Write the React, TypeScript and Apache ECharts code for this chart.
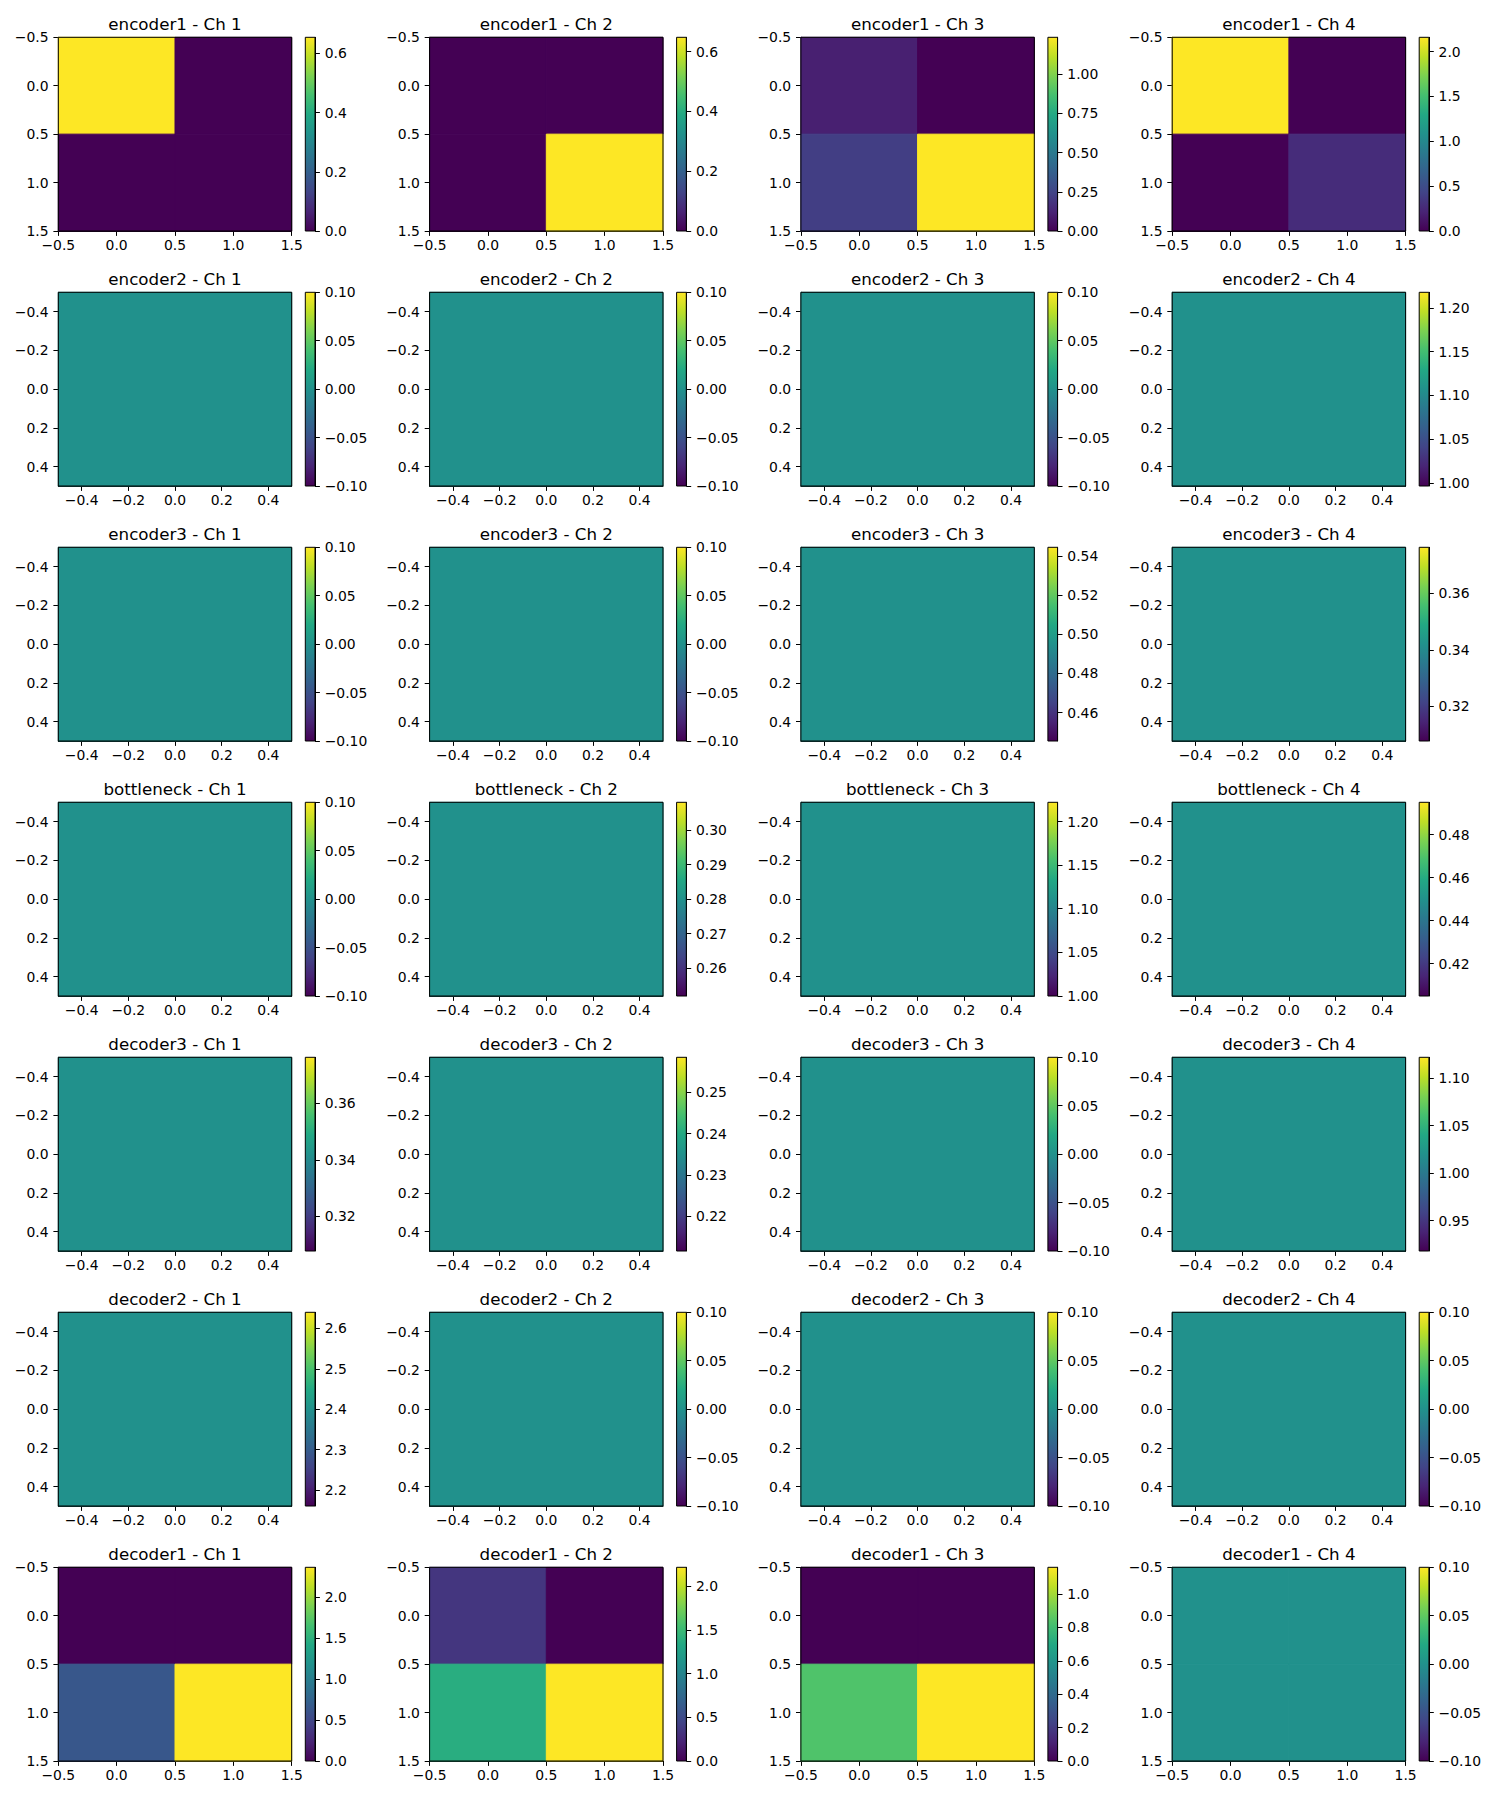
import React, { useEffect, useRef } from 'react';
import * as echarts from 'echarts';

// ---------------- data ----------------
const LAYERS = ['encoder1', 'encoder2', 'encoder3', 'bottleneck', 'decoder3', 'decoder2', 'decoder1'];
const CHANNELS = ['Ch 1', 'Ch 2', 'Ch 3', 'Ch 4'];

// activation maps per channel (rows top -> bottom)
const ENCODER1 = [
  [[0.654, 0], [0, 0]],
  [[0, 0], [0, 0.648]],
  [[0.11, 0], [0.225, 1.234]],
  [[2.16, 0], [0, 0.27]],
];
const ENCODER2 = [[[0]], [[0]], [[0]], [[1.107]]];
const ENCODER3 = [[[0]], [[0]], [[0.495]], [[0.342]]];
const BOTTLENECK = [[[0]], [[0.28]], [[1.111]], [[0.45]]];
const DECODER3 = [[[0.342]], [[0.235]], [[0]], [[1.02]]];
const DECODER2 = [[[2.4]], [[0]], [[0]], [[0]]];
const DECODER1 = [
  [[0, 0], [0.64, 2.36]],
  [[0.35, 0], [1.38, 2.22]],
  [[0, 0], [0.835, 1.16]],
  [[0, 0], [0, 0]],
];
const LAYER_VALUES = [ENCODER1, ENCODER2, ENCODER3, BOTTLENECK, DECODER3, DECODER2, DECODER1];

// colorbar tick labels
const SYM = ['-0.10', '-0.05', '0.00', '0.05', '0.10'];
const CB_TICKS_ENCODER1 = [['0.0', '0.2', '0.4', '0.6'], ['0.0', '0.2', '0.4', '0.6'], ['0.00', '0.25', '0.50', '0.75', '1.00'], ['0.0', '0.5', '1.0', '1.5', '2.0']];
const CB_TICKS_ENCODER2 = [SYM, SYM, SYM, ['1.00', '1.05', '1.10', '1.15', '1.20']];
const CB_TICKS_ENCODER3 = [SYM, SYM, ['0.46', '0.48', '0.50', '0.52', '0.54'], ['0.32', '0.34', '0.36']];
const CB_TICKS_BOTTLENECK = [SYM, ['0.26', '0.27', '0.28', '0.29', '0.30'], ['1.00', '1.05', '1.10', '1.15', '1.20'], ['0.42', '0.44', '0.46', '0.48']];
const CB_TICKS_DECODER3 = [['0.32', '0.34', '0.36'], ['0.22', '0.23', '0.24', '0.25'], SYM, ['0.95', '1.00', '1.05', '1.10']];
const CB_TICKS_DECODER2 = [['2.2', '2.3', '2.4', '2.5', '2.6'], SYM, SYM, SYM];
const CB_TICKS_DECODER1 = [['0.0', '0.5', '1.0', '1.5', '2.0'], ['0.0', '0.5', '1.0', '1.5', '2.0'], ['0.0', '0.2', '0.4', '0.6', '0.8', '1.0'], SYM];
const CB_TICKS = [CB_TICKS_ENCODER1, CB_TICKS_ENCODER2, CB_TICKS_ENCODER3, CB_TICKS_BOTTLENECK, CB_TICKS_DECODER3, CB_TICKS_DECODER2, CB_TICKS_DECODER1];

// image axis tick labels
const AXIS_TICKS_2X2 = ['-0.5', '0.0', '0.5', '1.0', '1.5'];
const AXIS_TICKS_1X1 = ['-0.4', '-0.2', '0.0', '0.2', '0.4'];

const VIRIDIS = ['#440154', '#482475', '#414487', '#355f8d', '#2a788e', '#21918c', '#22a884', '#44bf70', '#7ad151', '#bddf26', '#fde725'];

// ---------------- layout ----------------
const FONT = '"DejaVu Sans", "Liberation Sans", sans-serif';
const PLOT_LEFT0 = 58.3;
const COL_STEP = 371.3;
const PLOT_TOP0 = 37.3;
const ROW_STEP = 255;
const PLOT_W = 233.4;
const PLOT_H = 193.7;
const CB_OFFSET = 247;
const CB_W = 9.7;
const TICK_FS = 13.9;
const TITLE_FS = 16.7;

const fmtFrom = (labels: string[]) => (val: number) => {
  let best = labels[0];
  let bd = Infinity;
  for (const l of labels) {
    const d = Math.abs(Number(l) - val);
    if (d < bd) { bd = d; best = l; }
  }
  return best.replace('-', '\u2212');
};

const rangeOf = (vals: number[][]) => {
  const flat = vals.flat();
  let lo = Math.min(...flat);
  let hi = Math.max(...flat);
  if (hi - lo < 1e-12) {
    if (lo === 0 && hi === 0) { lo = -0.1; hi = 0.1; }
    else { lo = lo - 0.1 * Math.abs(lo); hi = hi + 0.1 * Math.abs(hi); }
  }
  return [lo, hi];
};

function buildOption() {
  const grid: any[] = [];
  const xAxis: any[] = [];
  const yAxis: any[] = [];
  const series: any[] = [];
  const texts: any[] = [];
  const stops = VIRIDIS.map((c, i) => ({ offset: i / (VIRIDIS.length - 1), color: c }));

  LAYERS.forEach((layer, r) => {
    CHANNELS.forEach((ch, c) => {
      const vals = LAYER_VALUES[r][c];
      const n = vals.length;
      const [lo, hi] = rangeOf(vals);
      const left = PLOT_LEFT0 + c * COL_STEP;
      const top = PLOT_TOP0 + r * ROW_STEP;
      const axTicks = n === 2 ? AXIS_TICKS_2X2 : AXIS_TICKS_1X1;
      const axVals = axTicks.map(Number);
      const amin = -0.5;
      const amax = n - 0.5;

      // heatmap grid
      const gi = grid.length;
      grid.push({ left, top, width: PLOT_W, height: PLOT_H, show: true, borderColor: '#000', borderWidth: 1, backgroundColor: 'transparent', z: 10 });
      const axisCommon = {
        gridIndex: gi, type: 'value', min: amin, max: amax,
        axisLine: { show: true, onZero: false, lineStyle: { color: '#000', width: 1 } },
        axisTick: { show: true, customValues: axVals, length: 4.9, lineStyle: { color: '#000', width: 1 } },
        splitLine: { show: false },
      };
      xAxis.push({
        ...axisCommon, position: 'bottom',
        axisLabel: { customValues: axVals, formatter: fmtFrom(axTicks), color: '#000', fontSize: TICK_FS, fontFamily: FONT, margin: 7 },
      });
      yAxis.push({
        ...axisCommon, position: 'left', inverse: true,
        axisLabel: { customValues: axVals, formatter: fmtFrom(axTicks), color: '#000', fontSize: TICK_FS, fontFamily: FONT, margin: 9.7 },
      });
      const data: number[][] = [];
      vals.forEach((row, yi) => row.forEach((v, xi) => data.push([xi, yi, v])));
      series.push({
        type: 'custom', xAxisIndex: gi, yAxisIndex: gi, coordinateSystem: 'cartesian2d',
        encode: { x: 0, y: 1 }, data, silent: true,
        renderItem: (params: any, api: any) => {
          const x = api.value(0);
          const y = api.value(1);
          const v = api.value(2);
          const p0 = api.coord([x - 0.5, y - 0.5]);
          const p1 = api.coord([x + 0.5, y + 0.5]);
          const t = Math.max(0, Math.min(1, (v - lo) / (hi - lo)));
          const col = echarts.color.lerp(t, VIRIDIS);
          return {
            type: 'rect',
            shape: { x: Math.min(p0[0], p1[0]), y: Math.min(p0[1], p1[1]), width: Math.abs(p1[0] - p0[0]), height: Math.abs(p1[1] - p0[1]) },
            style: { fill: col, stroke: col, lineWidth: 1 },
          };
        },
      });

      // colorbar grid
      const ci = grid.length;
      const cbTicks = CB_TICKS[r][c];
      const cbVals = cbTicks.map(Number);
      grid.push({ left: left + CB_OFFSET, top, width: CB_W, height: PLOT_H, show: true, borderColor: '#000', borderWidth: 1, backgroundColor: 'transparent', z: 10 });
      xAxis.push({ gridIndex: ci, type: 'value', min: 0, max: 1, show: false });
      yAxis.push({
        gridIndex: ci, type: 'value', position: 'right', min: lo, max: hi,
        axisLine: { show: true, onZero: false, lineStyle: { color: '#000', width: 1 } },
        axisTick: { show: true, customValues: cbVals, length: 4.9, lineStyle: { color: '#000', width: 1 } },
        axisLabel: { customValues: cbVals, formatter: fmtFrom(cbTicks), color: '#000', fontSize: TICK_FS, fontFamily: FONT, margin: 9.7 },
        splitLine: { show: false },
      });
      series.push({
        type: 'custom', xAxisIndex: ci, yAxisIndex: ci, coordinateSystem: 'cartesian2d',
        encode: { x: 0, y: 1 }, data: [[0, lo, hi]], silent: true,
        renderItem: (params: any, api: any) => {
          const cs = params.coordSys;
          const pLo = api.coord([0, api.value(1)]);
          const pHi = api.coord([0, api.value(2)]);
          return {
            type: 'rect',
            shape: { x: cs.x, y: Math.min(pLo[1], pHi[1]), width: cs.width, height: Math.abs(pLo[1] - pHi[1]) },
            style: { fill: new echarts.graphic.LinearGradient(0, 1, 0, 0, stops) },
          };
        },
      });

      texts.push({
        type: 'text', x: left + PLOT_W / 2, y: top - 13, silent: true,
        style: {
          text: `${layer} - ${ch}`, font: `${TITLE_FS}px ${FONT}`, fill: '#000',
          textAlign: 'center', textVerticalAlign: 'middle', align: 'center', verticalAlign: 'middle',
        },
      });
    });
  });

  return {
    animation: false,
    backgroundColor: '#ffffff',
    grid, xAxis, yAxis, series,
    graphic: { elements: texts },
  };
}

export default function App() {
  const ref = useRef<HTMLDivElement>(null);
  useEffect(() => {
    document.body.style.margin = '0';
    if (!ref.current) return;
    const chart = echarts.init(ref.current, null, { renderer: 'svg' });
    chart.setOption(buildOption() as any);
    return () => chart.dispose();
  }, []);
  return <div ref={ref} style={{ width: 1500, height: 1800, background: '#fff' }} />;
}
